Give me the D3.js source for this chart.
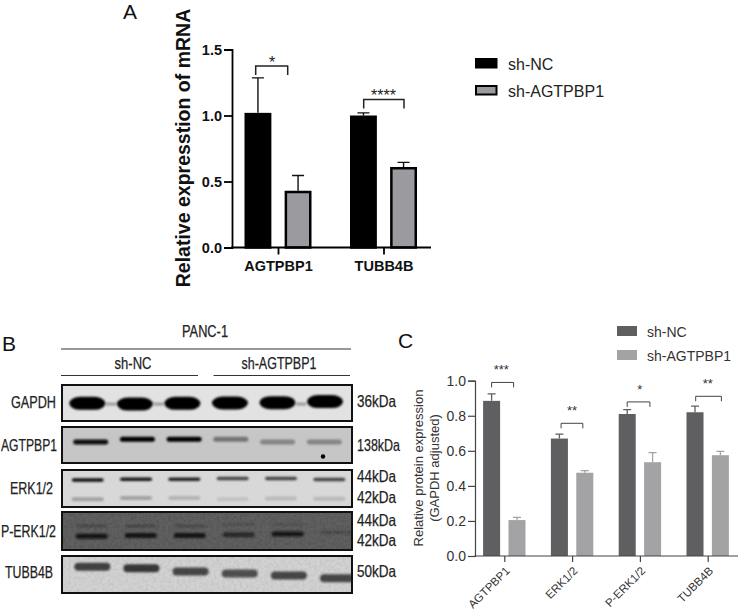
<!DOCTYPE html>
<html>
<head>
<meta charset="utf-8">
<script src="https://cdn.jsdelivr.net/npm/d3@7"></script>
<style>
body { margin: 0; background: #fff; }
svg { display: block; }
text { font-family: "Liberation Sans", Arial, sans-serif; }
.blot text { fill: #222; stroke: #222; stroke-width: 0.25px; font-size: 16.5px; }
</style>
</head>
<body>
<svg width="744" height="610"></svg>
<script>
// panel A: qPCR
var seriesNames = ["sh-NC", "sh-AGTPBP1"];
var mrnaGenes = ["AGTPBP1", "TUBB4B"];
var mrnaNC = [1.02, 1.0];
var mrnaKD = [0.43, 0.61];
var mrnaNCTop = [1.285, 1.02];
var mrnaKDTop = [0.545, 0.645];
var mrnaStars = ["*", "****"];
var mrnaBracket = [1.375, 1.122];
var mrnaTicks = [0, 0.5, 1.0, 1.5];

// panel C: densitometry
var protNames = ["AGTPBP1", "ERK1/2", "P-ERK1/2", "TUBB4B"];
var protNC = [0.885, 0.67, 0.81, 0.82];
var protKD = [0.205, 0.475, 0.535, 0.575];
var protNCTop = [0.925, 0.695, 0.835, 0.855];
var protKDTop = [0.22, 0.487, 0.59, 0.597];
var protStars = ["***", "**", "*", "**"];
var protBracket = [0.99, 0.757, 0.879, 0.911];
var protTicks = [0, 0.2, 0.4, 0.6, 0.8, 1.0];

// panel B: western blot, band strength per lane (0-1) and where it runs in the strip (0 top, 1 bottom)
var blotNames = ["GAPDH", "AGTPBP1", "ERK1/2", "P-ERK1/2", "TUBB4B"];
var gapdhLevel = [1, 1, 1, 1, 1, 1];
var gapdhRun = [0.51, 0.53, 0.51, 0.5, 0.49, 0.46];
var gapdhSmear = [0.5, 1.5, 4.5];
var agtLevel = [0.95, 1, 1, 0.42, 0.33, 0.33];
var agtRun = [0.42, 0.34, 0.34, 0.34, 0.42, 0.42];
var erk44Level = [0.9, 0.9, 0.85, 0.68, 0.68, 0.68];
var erk44Run = [0.27, 0.25, 0.25, 0.23, 0.23, 0.26];
var erk42Level = [0.25, 0.25, 0.17, 0.1, 0.14, 0.15];
var erk42Run = [0.79, 0.76, 0.76, 0.79, 0.77, 0.78];
var perk44Level = [0.22, 0.22, 0.2, 0.15, 0.15, 0.22];
var perk44Run = [0.37, 0.37, 0.37, 0.33, 0.33, 0.53];
var perk42Level = [0.8, 0.8, 0.8, 0.55, 0.8, 0];
var perk42Run = [0.64, 0.62, 0.62, 0.6, 0.58, 0.6];
var tubbLevel = [0.68, 0.74, 0.66, 0.62, 0.66, 0.66];
var tubbRun = [0.29, 0.33, 0.42, 0.47, 0.53, 0.6];

var svg = d3.select("svg");
var defs = svg.append("defs");
defs.append("filter").attr("id", "soft").attr("x", "-20%").attr("y", "-80%").attr("width", "140%").attr("height", "260%")
    .append("feGaussianBlur").attr("stdDeviation", 0.9);
var grain = defs.append("filter").attr("id", "grain").attr("x", 0).attr("y", 0).attr("width", "100%").attr("height", "100%");
grain.append("feTurbulence").attr("type", "fractalNoise").attr("baseFrequency", 0.35).attr("numOctaves", 2).attr("seed", 4);
grain.append("feColorMatrix").attr("values", "0 0 0 0 0  0 0 0 0 0  0 0 0 0 0  0.9 0 0 0 -0.33");

function rows(names, a, b, aTop, bTop) {
    return names.map(function(n, i) {
	return {name: n, vals: [a[i], b[i]], tops: [aTop[i], bTop[i]]};
    });
}

// ---------------- A ----------------
var ax = d3.scalePoint().domain(mrnaGenes).range([278, 383.5]);
var ay = d3.scaleLinear().domain([0, 1.5]).range([247.5, 49.5]);
var ab = d3.scaleBand().domain(seriesNames).range([-33.5, 33.5]).paddingInner(0.33);
var acol = ["#000", "#9b9a9e"];

var ga = svg.append("g");
ga.append("g").selectAll("g").data(rows(mrnaGenes, mrnaNC, mrnaKD, mrnaNCTop, mrnaKDTop))
    .enter().append("g")
    .each(function(d) {
	var g = d3.select(this);
	d.vals.forEach(function(v, i) {
	    var x0 = ax(d.name) + ab(seriesNames[i]), xm = x0 + ab.bandwidth() / 2;
	    g.append("path").attr("fill", "none").attr("stroke", "#111").attr("stroke-width", 1.4)
		.attr("d", "M" + xm + "," + ay(v) + "V" + ay(d.tops[i]) + "M" + (xm - 6) + "," + ay(d.tops[i]) + "H" + (xm + 6));
	    g.append("rect").attr("x", x0 + 1.25).attr("y", ay(v) + 1.25)
		.attr("width", ab.bandwidth() - 2.5).attr("height", ay(0) - ay(v) - 1.25)
		.attr("fill", acol[i]).attr("stroke", "#000").attr("stroke-width", 2.5);
	});
    });

var ayAxis = ga.append("g").attr("transform", "translate(232,0)")
    .call(d3.axisLeft(ay).tickValues(mrnaTicks).tickFormat(d3.format(".1f")).tickSize(8).tickPadding(2));
ayAxis.selectAll("path,line").attr("stroke", "#000").attr("stroke-width", 1.8);
ayAxis.selectAll("text").attr("fill", "#111").style("font-size", "14.5px").style("font-weight", "bold");

var axAxis = ga.append("g").attr("transform", "translate(0,247.5)")
    .call(d3.axisBottom(ax).tickSize(7).tickPadding(6));
axAxis.select(".domain").remove();
axAxis.selectAll("line").attr("stroke", "#000").attr("stroke-width", 1.8);
axAxis.selectAll("text").attr("fill", "#111").style("font-size", "14.5px").style("font-weight", "bold");
ga.append("line").attr("x1", 231).attr("x2", 431).attr("y1", 247.5).attr("y2", 247.5)
    .attr("stroke", "#000").attr("stroke-width", 1.8);

mrnaGenes.forEach(function(n, i) {
    var off = [[-22.3, 9.7], [-19.8, 20.5]][i];
    var yb = ay(mrnaBracket[i]);
    ga.append("path").attr("fill", "none").attr("stroke", "#222").attr("stroke-width", 1.5)
	.attr("d", "M" + (ax(n) + off[0]) + "," + (yb + 9) + "V" + yb + "H" + (ax(n) + off[1]) + "V" + (yb + 9));
    ga.append("text").attr("x", ax(n) + (i ? 0 : -6)).attr("y", yb + 2).attr("text-anchor", "middle")
	.style("font-size", "16px").attr("fill", "#222").text(mrnaStars[i]);
});

ga.append("text").attr("transform", "translate(190,148) rotate(-90)").attr("text-anchor", "middle")
    .style("font-size", "19.5px").style("font-weight", "bold").attr("fill", "#111")
    .text("Relative expresstion of mRNA");

seriesNames.forEach(function(s, i) {
    var yy = [58, 85][i];
    ga.append("rect").attr("x", 476).attr("y", yy + 1).attr("width", 20.5).attr("height", 8.5)
	.attr("fill", acol[i]).attr("stroke", "#000").attr("stroke-width", 2);
    ga.append("text").attr("x", 508).attr("y", yy + 11.5).style("font-size", "16px").attr("fill", "#222").text(s);
});

// panel letters
[["A", 123, 19], ["B", 2, 351], ["C", 398, 348]].forEach(function(d) {
    svg.append("text").attr("x", d[1]).attr("y", d[2]).style("font-size", "21px").attr("fill", "#111").text(d[0]);
});

// ---------------- B ----------------
var gb = svg.append("g").attr("class", "blot");
var strips = [
    {top: 385, bot: 421, bg: "#e2e2e2", x0: 87.3, x1: 325, w: 36, h: [13], rx: 11},
    {top: 427, bot: 463, bg: "#c6c6c6", x0: 90.7, x1: 324.3, w: 35, h: [5], rx: 2.5},
    {top: 470, bot: 507, bg: "#d8d8d8", x0: 87.7, x1: 329.3, w: 32, h: [3.5, 4], rx: 2},
    {top: 512, bot: 550, bg: "#606060", x0: 91.7, x1: 336.7, w: 32, h: [3, 5], rx: 2},
    {top: 556, bot: 593, bg: "#d2d2d2", x0: 92.3, x1: 338, w: 36, h: [8], rx: 4}
];
var bandSets = [
    [[gapdhLevel, gapdhRun]],
    [[agtLevel, agtRun]],
    [[erk44Level, erk44Run], [erk42Level, erk42Run]],
    [[perk44Level, perk44Run], [perk42Level, perk42Run]],
    [[tubbLevel, tubbRun]]
];
var laneIdx = d3.range(6);
strips.forEach(function(st, k) {
    var lane = d3.scaleLinear().domain([0, 5]).range([st.x0, st.x1]);
    var run = d3.scaleLinear().domain([0, 1]).range([st.top, st.bot]);
    var dark = d3.scaleLinear().domain([0, 1]).range([st.bg, "#000"]);
    defs.append("clipPath").attr("id", "strip" + k).append("rect")
	.attr("x", 62).attr("y", st.top).attr("width", 290).attr("height", st.bot - st.top);
    var g = gb.append("g");
    var inner = g.append("g").attr("clip-path", "url(#strip" + k + ")");
    inner.append("rect").attr("x", 62).attr("y", st.top).attr("width", 290).attr("height", st.bot - st.top).attr("fill", st.bg);
    if (k == 0) {
	inner.append("g").attr("filter", "url(#soft)").selectAll("rect").data(gapdhSmear)
	    .enter().append("rect")
	    .attr("x", function(d) { return lane(d) - 5; })
	    .attr("y", run(0.53) - 1.5).attr("width", 10).attr("height", 3).attr("fill", "#999");
    }
    bandSets[k].forEach(function(set, j) {
	inner.append("g").attr("filter", "url(#soft)").selectAll("rect").data(laneIdx)
	    .enter().append("rect")
	    .attr("x", function(d) { return lane(d) - st.w / 2; })
	    .attr("y", function(d) { return run(set[1][d]) - st.h[j] / 2; })
	    .attr("width", st.w).attr("height", st.h[j])
	    .attr("rx", st.rx).attr("ry", st.h[j] / 2)
	    .attr("fill", function(d) { return dark(set[0][d]); })
	    .attr("display", function(d) { return set[0][d] > 0 ? null : "none"; });
    });
    if (k >= 3) {
	inner.append("rect").attr("x", 62).attr("y", st.top).attr("width", 290).attr("height", st.bot - st.top)
	    .attr("filter", "url(#grain)").attr("opacity", k == 3 ? 0.3 : 0.15);
    }
    g.append("rect").attr("x", 62).attr("y", st.top).attr("width", 290).attr("height", st.bot - st.top)
	.attr("fill", "none").attr("stroke", "#111").attr("stroke-width", 2);
});
gb.append("circle").attr("cx", 323).attr("cy", 456.5).attr("r", 2.2).attr("fill", "#000");

// the blot labels are set in a condensed face, so squeeze to the measured widths
function blotText(t, x, y, anchor, len) {
    gb.append("text").attr("x", x).attr("y", y).attr("text-anchor", anchor)
	.attr("textLength", len).attr("lengthAdjust", "spacingAndGlyphs").text(t);
}
var stripLabelY = [407.5, 450.5, 494, 536.5, 578];
var stripLabelW = [45, 56, 43, 55, 48];
var stripLabelR = [56, 57, 53, 56, 53];
blotNames.forEach(function(n, i) {
    blotText(n, stripLabelR[i], stripLabelY[i], "end", stripLabelW[i]);
});
var kdaText = ["36kDa", "138kDa", "44kDa", "42kDa", "44kDa", "42kDa", "50kDa"];
var kdaY = [407, 451, 482, 503, 526, 546, 577];
var kdaW = [39, 43, 39, 39, 39, 39, 39];
kdaText.forEach(function(n, i) {
    blotText(n, 357, kdaY[i], "start", kdaW[i]);
});
blotText("PANC-1", 205, 337, "middle", 46);
blotText(seriesNames[0], 133, 369, "middle", 37);
blotText(seriesNames[1], 279, 369, "middle", 75);
[[61, 351, 349], [61, 198, 375.5], [213.5, 350, 375.5]].forEach(function(d) {
    gb.append("line").attr("x1", d[0]).attr("x2", d[1]).attr("y1", d[2]).attr("y2", d[2])
	.attr("stroke", "#333").attr("stroke-width", 1.2);
});

// ---------------- C ----------------
var cx = d3.scalePoint().domain(protNames).range([504.3, 707.7]);
var cy = d3.scaleLinear().domain([0, 1]).range([556, 380.7]);
var cb = d3.scaleBand().domain(seriesNames).range([-21.2, 21.2]).paddingInner(0.33);
var ccol = ["#5f5f61", "#a3a3a6"];

var gc = svg.append("g");
gc.append("g").selectAll("g").data(rows(protNames, protNC, protKD, protNCTop, protKDTop))
    .enter().append("g")
    .each(function(d) {
	var g = d3.select(this);
	d.vals.forEach(function(v, i) {
	    var x0 = cx(d.name) + cb(seriesNames[i]), xm = x0 + cb.bandwidth() / 2;
	    g.append("path").attr("fill", "none").attr("stroke", ccol[i]).attr("stroke-width", 1.3)
		.attr("d", "M" + xm + "," + cy(v) + "V" + cy(d.tops[i]) + "M" + (xm - 4) + "," + cy(d.tops[i]) + "H" + (xm + 4));
	    g.append("rect").attr("x", x0).attr("y", cy(v))
		.attr("width", cb.bandwidth()).attr("height", cy(0) - cy(v))
		.attr("fill", ccol[i]);
	});
    });

var cyAxis = gc.append("g").attr("transform", "translate(475,0)")
    .call(d3.axisLeft(cy).tickValues(protTicks).tickFormat(d3.format(".1f")).tickSize(7).tickPadding(2));
cyAxis.selectAll("path,line").attr("stroke", "#444").attr("stroke-width", 1.2);
cyAxis.selectAll("text").attr("fill", "#333").style("font-size", "14px");

var cxAxis = gc.append("g").attr("transform", "translate(0,556)")
    .call(d3.axisBottom(cx).tickSize(6));
cxAxis.select(".domain").remove();
cxAxis.selectAll("line").attr("stroke", "#444").attr("stroke-width", 1.2);
cxAxis.selectAll("text").attr("fill", "#333").style("font-size", "11.5px")
    .attr("text-anchor", "end").attr("transform", "rotate(-45)").attr("x", -7).attr("y", 11).attr("dy", "0.35em");
gc.append("line").attr("x1", 474.5).attr("x2", 738).attr("y1", 556).attr("y2", 556)
    .attr("stroke", "#444").attr("stroke-width", 1.2);

var protOff = [[-12.7, 9.3], [-11, 10.7], [-12.7, 10], [-12, 13.7]];
protNames.forEach(function(n, i) {
    var yb = cy(protBracket[i]);
    gc.append("path").attr("fill", "none").attr("stroke", "#444").attr("stroke-width", 1)
	.attr("d", "M" + (cx(n) + protOff[i][0]) + "," + (yb + 5) + "V" + yb + "H" + (cx(n) + protOff[i][1]) + "V" + (yb + 5));
    gc.append("text").attr("x", cx(n) - (i ? 0 : 3)).attr("y", yb - 8).attr("text-anchor", "middle")
	.style("font-size", "13px").attr("fill", "#333").text(protStars[i]);
});

gc.append("text").attr("transform", "translate(423,468) rotate(-90)").attr("text-anchor", "middle")
    .style("font-size", "13px").attr("fill", "#333").text("Relative protein expression");
gc.append("text").attr("transform", "translate(439,468) rotate(-90)").attr("text-anchor", "middle")
    .style("font-size", "13px").attr("fill", "#333").text("(GAPDH adjusted)");

seriesNames.forEach(function(s, i) {
    var yy = [326, 350][i];
    gc.append("rect").attr("x", 617).attr("y", yy).attr("width", 20).attr("height", 10).attr("fill", ccol[i]);
    gc.append("text").attr("x", 647).attr("y", yy + 10.5).style("font-size", "14px").attr("fill", "#333").text(s);
});
</script>
</body>
</html>
